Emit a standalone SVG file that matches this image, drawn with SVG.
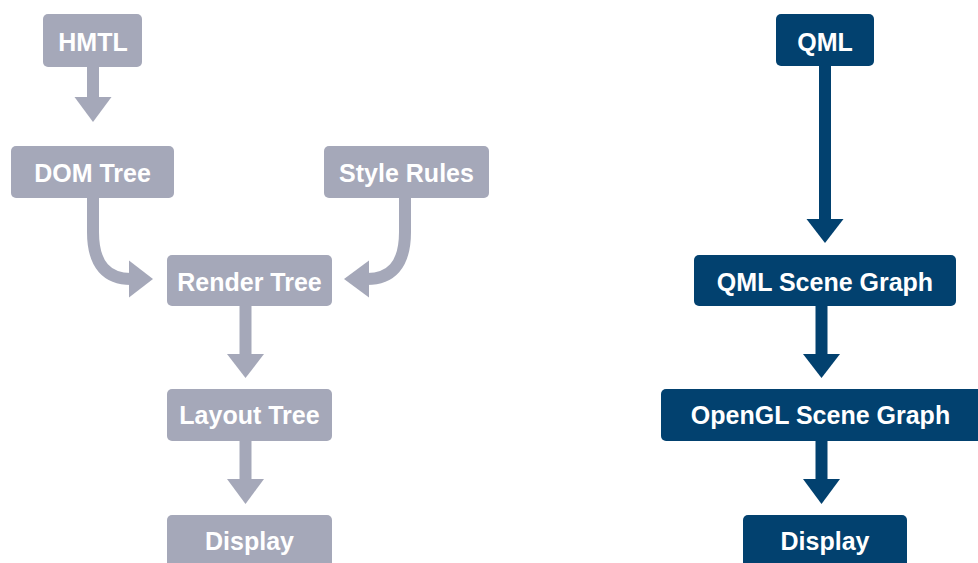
<svg xmlns="http://www.w3.org/2000/svg" width="978" height="563" viewBox="0 0 978 563">
  <style>
    .box-web { fill: #a5a8b9; }
    .box-qml { fill: #02416f; }
    .label { font-family: "Liberation Sans", Arial, sans-serif; font-weight: bold; font-size: 25px; fill: #ffffff; text-anchor: middle; }
    .shaft-web { fill: none; stroke: #a5a8b9; stroke-width: 12; }
    .shaft-qml { fill: none; stroke: #02416f; stroke-width: 12; }
    .head-web { fill: #a5a8b9; }
    .head-qml { fill: #02416f; }
  </style>
  <rect width="978" height="563" fill="#ffffff"/>

  <!-- Connectors -->
  <g id="connectors">
    <!-- browser pipeline -->
    <path class="shaft-web" d="M93,67 V98"/>
    <polygon class="head-web" points="74.5,97 111.5,97 93,122"/>

    <path class="shaft-web" d="M93,198 V232 C93,266 108,279 131,279"/>
    <polygon class="head-web" points="129,260.5 153,279 129,297.5"/>

    <path class="shaft-web" d="M405,198 V232 C405,266 390,279 367,279"/>
    <polygon class="head-web" points="369,260.5 344,279 369,297.5"/>

    <path class="shaft-web" d="M245.5,306 V355"/>
    <polygon class="head-web" points="227,354 264,354 245.5,378"/>

    <path class="shaft-web" d="M245.5,441 V480"/>
    <polygon class="head-web" points="227,479 264,479 245.5,504"/>

    <!-- QML pipeline -->
    <path class="shaft-qml" d="M825,66 V220"/>
    <polygon class="head-qml" points="806.5,219 843.5,219 825,243"/>

    <path class="shaft-qml" d="M821.5,306 V355"/>
    <polygon class="head-qml" points="803,354 840,354 821.5,378"/>

    <path class="shaft-qml" d="M821.5,441 V480"/>
    <polygon class="head-qml" points="803,479 840,479 821.5,504"/>
  </g>

  <!-- Browser nodes -->
  <g id="html">
    <rect class="box-web" x="43" y="14" width="99" height="53" rx="5"/>
    <text class="label" x="93" y="51">HMTL</text>
  </g>
  <g id="dom-tree">
    <rect class="box-web" x="11" y="146" width="163" height="52" rx="5"/>
    <text class="label" x="92.5" y="182">DOM Tree</text>
  </g>
  <g id="style-rules">
    <rect class="box-web" x="324" y="146" width="165" height="52" rx="5"/>
    <text class="label" x="406.5" y="182">Style Rules</text>
  </g>
  <g id="render-tree">
    <rect class="box-web" x="167" y="255" width="165" height="51" rx="5"/>
    <text class="label" x="249.5" y="291">Render Tree</text>
  </g>
  <g id="layout-tree">
    <rect class="box-web" x="167" y="389" width="165" height="52" rx="5"/>
    <text class="label" x="249.5" y="424">Layout Tree</text>
  </g>
  <g id="display-web">
    <rect class="box-web" x="167" y="515" width="165" height="60" rx="5"/>
    <text class="label" x="249.5" y="550">Display</text>
  </g>

  <!-- QML nodes -->
  <g id="qml">
    <rect class="box-qml" x="776" y="14" width="98" height="52" rx="5"/>
    <text class="label" x="825" y="51">QML</text>
  </g>
  <g id="qml-scene-graph">
    <rect class="box-qml" x="694" y="255" width="262" height="51" rx="5"/>
    <text class="label" x="825" y="291">QML Scene Graph</text>
  </g>
  <g id="opengl-scene-graph">
    <rect class="box-qml" x="661" y="389" width="322" height="52" rx="5"/>
    <text class="label" x="820.5" y="424">OpenGL Scene Graph</text>
  </g>
  <g id="display-qml">
    <rect class="box-qml" x="743" y="515" width="164" height="60" rx="5"/>
    <text class="label" x="825" y="550">Display</text>
  </g>
</svg>
